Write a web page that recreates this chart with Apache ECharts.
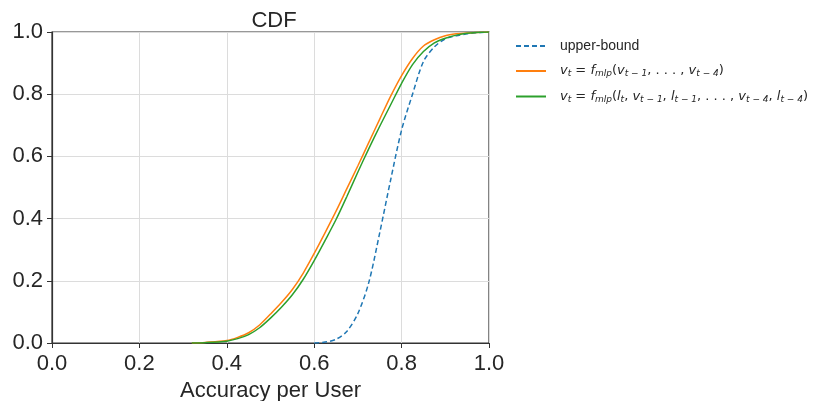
<!DOCTYPE html>
<html><head><meta charset="utf-8">
<script src="https://cdn.jsdelivr.net/npm/echarts@6/dist/echarts.min.js"></script>
<style>html,body{margin:0;padding:0;background:#fff}#c{width:828px;height:401px}</style>
</head><body><div id="c"></div>
<script>
const xTicks = [0.0, 0.2, 0.4, 0.6, 0.8, 1.0];
const yTicks = [0.0, 0.2, 0.4, 0.6, 0.8, 1.0];
const seriesNames = ['upper-bound', 'mlp_v', 'mlp_lv'];
const upperX = [0.60,0.625,0.65,0.675,0.70,0.725,0.75,0.775,0.80,0.825,0.85,0.875,0.90,0.925,0.95,0.975,1.0];
const upperY = [0,0.003,0.012,0.038,0.095,0.195,0.355,0.525,0.685,0.80,0.905,0.952,0.978,0.988,0.994,0.998,1.0];
const orangeX = [0.32,0.35,0.40,0.425,0.45,0.475,0.50,0.525,0.55,0.575,0.60,0.625,0.65,0.675,0.70,0.725,0.75,0.775,0.80,0.825,0.85,0.875,0.90,0.925,0.95,1.0];
const orangeY = [0,0.002,0.008,0.018,0.033,0.058,0.093,0.13,0.172,0.225,0.288,0.355,0.424,0.497,0.57,0.645,0.72,0.794,0.86,0.915,0.955,0.975,0.988,0.994,0.997,1.0];
const greenX = [0.32,0.35,0.40,0.425,0.45,0.475,0.50,0.525,0.55,0.575,0.60,0.625,0.65,0.675,0.70,0.725,0.75,0.775,0.80,0.825,0.85,0.875,0.90,0.925,0.95,1.0];
const greenY = [0,0.001,0.006,0.014,0.027,0.049,0.08,0.115,0.155,0.205,0.265,0.33,0.397,0.472,0.55,0.625,0.697,0.766,0.835,0.895,0.937,0.965,0.98,0.99,0.996,1.0];

const zip = (a, b) => a.map((v, i) => [v, b[i]]);
const legendText = {
  'upper-bound': '{sp|}{a|upper-bound}',
  'mlp_v': '{sp|}{i|v}{s|t}{n| = }{i|f}{s|mlp}{n|(}{i|v}{s|t − 1}{n|, . . . , }{i|v}{s|t − 4}{n|)}',
  'mlp_lv': '{sp|}{i|v}{s|t}{n| = }{i|f}{s|mlp}{n|(}{i|l}{s|t}{n|, }{i|v}{s|t − 1}{n|, }{i|l}{s|t − 1}{n|, . . . , }{i|v}{s|t − 4}{n|, }{i|l}{s|t − 4}{n|)}'
};
const chart = echarts.init(document.getElementById('c'));
const F = 'Liberation Sans';
const M = 'DejaVu Sans';
const TC = '#262626';
chart.setOption({
  animation: false,
  backgroundColor: '#fff',
  title: { text: 'CDF', left: 269, top: 5, textAlign: 'center',
    textStyle: { fontFamily: F, fontSize: 22, fontWeight: 'normal', color: TC } },
  grid: { left: 52, right: 339, top: 32, bottom: 58, show: true, borderColor: '#333', borderWidth: 1.2,
    containLabel: false, outerBoundsMode: 'none' },
  legend: {
    orient: 'vertical', left: 510, top: 34, itemWidth: 30, itemHeight: 10, itemGap: 11,
    data: seriesNames,
    itemStyle: { opacity: 0 },
    formatter: n => legendText[n],
    textStyle: { fontFamily: F, fontSize: 14, color: TC,
      rich: {
        sp: { width: 9 },
        a: { fontFamily: F, fontSize: 14, color: TC },
        n: { fontFamily: M, fontSize: 13, color: TC },
        i: { fontFamily: M, fontSize: 13, fontStyle: 'italic', color: TC },
        s: { fontFamily: M, fontSize: 9, fontStyle: 'italic', color: TC, padding: [6, 0, 0, 0] }
      } }
  },
  xAxis: {
    type: 'value', min: 0, max: 1, interval: 0.2,
    name: 'Accuracy per User', nameLocation: 'middle', nameGap: 31,
    nameTextStyle: { fontFamily: F, fontSize: 22, color: TC },
    axisLine: { show: true, lineStyle: { color: '#333', width: 1.2 } },
    axisTick: { show: true, length: 5, lineStyle: { color: '#333' } },
    axisLabel: { fontFamily: F, fontSize: 22, color: TC, margin: 10, formatter: v => v.toFixed(1) },
    splitLine: { show: true, lineStyle: { color: '#dcdcdc', width: 1 } }
  },
  yAxis: {
    type: 'value', min: 0, max: 1, interval: 0.2,
    axisLine: { show: true, lineStyle: { color: '#333', width: 1.2 } },
    axisTick: { show: true, length: 5, lineStyle: { color: '#333' } },
    axisLabel: { fontFamily: F, fontSize: 22, color: TC, margin: 9, formatter: v => v.toFixed(1) },
    splitLine: { show: true, lineStyle: { color: '#dcdcdc', width: 1 } }
  },
  series: [
    { name: seriesNames[0], type: 'line', data: zip(upperX, upperY), symbol: 'none', smooth: 0.3,
      lineStyle: { color: '#1f77b4', width: 1.5, type: [5, 3] }, itemStyle: { color: '#1f77b4' } },
    { name: seriesNames[1], type: 'line', data: zip(orangeX, orangeY), symbol: 'none', smooth: 0.3,
      lineStyle: { color: '#ff7f0e', width: 1.5 }, itemStyle: { color: '#ff7f0e' } },
    { name: seriesNames[2], type: 'line', data: zip(greenX, greenY), symbol: 'none', smooth: 0.3,
      lineStyle: { color: '#2ca02c', width: 1.5 }, itemStyle: { color: '#2ca02c' } }
  ]
});
</script></body></html>
